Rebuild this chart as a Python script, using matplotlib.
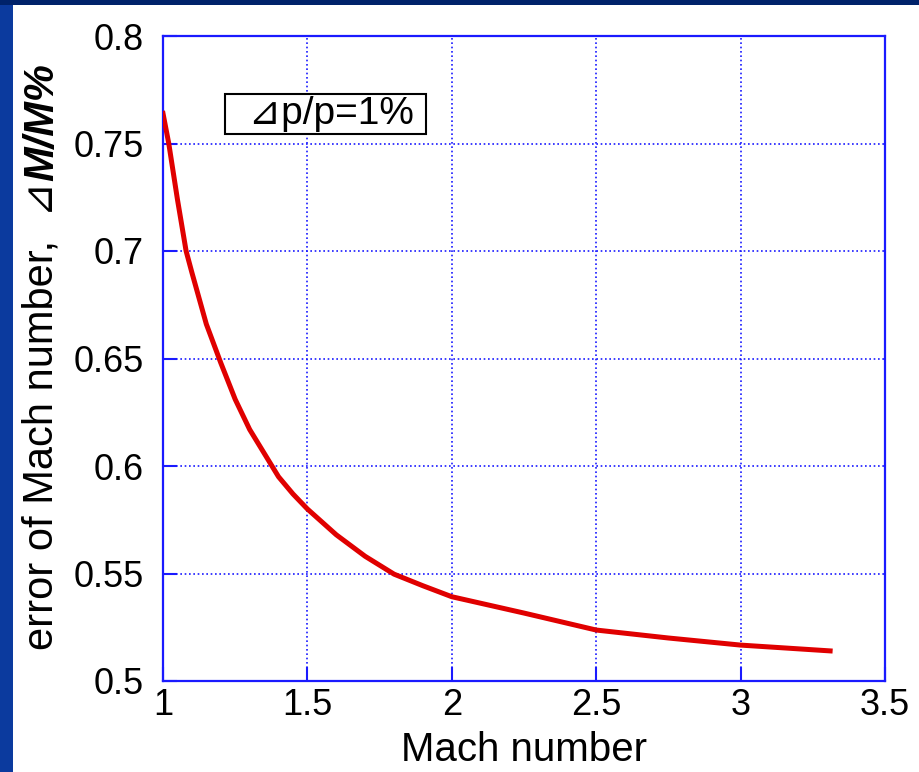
import matplotlib
matplotlib.use('Agg')
from matplotlib import pyplot as plt
from matplotlib.patches import Rectangle

# Datos
mach = [1.0, 1.02, 1.05, 1.08, 1.1, 1.15, 1.2, 1.25, 1.3, 1.35, 1.4, 1.45,
        1.5, 1.6, 1.7, 1.8, 1.9, 2.0, 2.25, 2.5, 2.75, 3.0, 3.31]
error = [0.764, 0.750, 0.724, 0.700, 0.690, 0.666, 0.648, 0.631, 0.617,
         0.606, 0.595, 0.587, 0.580, 0.568, 0.558, 0.5497, 0.5443, 0.5392,
         0.5316, 0.5237, 0.520, 0.5167, 0.514]
xticks = [1, 1.5, 2, 2.5, 3, 3.5]
xlabels = ['1', '1.5', '2', '2.5', '3', '3.5']
yticks = [0.5, 0.55, 0.6, 0.65, 0.7, 0.75, 0.8]
ylabels = ['0.5', '0.55', '0.6', '0.65', '0.7', '0.75', '0.8']

plt.rcParams['font.family'] = ['Liberation Sans', 'DejaVu Sans']

blue = '#1a1aff'
fig = plt.figure(figsize=(9.19, 7.72), dpi=100)
fig.patch.set_facecolor('#0b3a9e')
# fondo blanco de la diapositiva
fig.patches.append(Rectangle((13/919, 0), 1, 767/772, transform=fig.transFigure,
                             facecolor='white', edgecolor='none', zorder=-10))
fig.patches.append(Rectangle((0, 767/772), 1, 5/772, transform=fig.transFigure,
                             facecolor='#00226a', edgecolor='none', zorder=-10))

ax = fig.add_axes([163/919, 91/772, 722/919, 645/772])
ax.set_zorder(1)
ax.plot(mach, error, color='#e00000', lw=3.6, zorder=3)

ax.set_xlim(1, 3.5)
ax.set_ylim(0.5, 0.8)
ax.set_xticks(xticks)
ax.set_xticklabels(xlabels)
ax.set_yticks(yticks)
ax.set_yticklabels(ylabels)
ax.tick_params(axis='both', direction='in', color=blue, width=1.5,
               labelsize=26, length=10)
ax.tick_params(axis='y', pad=14)
ax.tick_params(axis='x', pad=5)
for s in ax.spines.values():
    s.set_color(blue)
    s.set_linewidth(1.6)
ax.grid(True, color=blue, linestyle=(0, (1, 1.6)), linewidth=1.2)

ax.set_xlabel('Mach number', fontsize=29)
ax.xaxis.set_label_coords(0.5, -0.078)

# etiqueta del eje y en dos partes (normal + negrita cursiva)
t1 = ax.text(-0.140, 0.0, 'error of Mach number,  ⊿', transform=ax.transAxes,
             rotation=90, rotation_mode='anchor', ha='left', va='bottom',
             fontsize=30)
t2 = ax.text(-0.140, 0.0, 'M/M%', transform=ax.transAxes,
             rotation=90, rotation_mode='anchor', ha='left', va='bottom',
             fontsize=30, fontweight='bold', fontstyle='italic')
fig.canvas.draw()
inv = ax.transAxes.inverted()
e1 = t1.get_window_extent()
e2 = t2.get_window_extent()
h1 = inv.transform((0, e1.height))[1] - inv.transform((0, 0))[1]
h2 = inv.transform((0, e2.height))[1] - inv.transform((0, 0))[1]
y0 = 0.503 - (h1 + h2) / 2
t1.set_position((-0.140, y0))
t2.set_position((-0.140, y0 + h1))

ax.text(1.5627, 0.7637, '  ⊿p/p=1% ', fontsize=28, ha='center', va='center',
        bbox=dict(boxstyle='square,pad=0.05', facecolor='white',
                  edgecolor='black', linewidth=1.5), zorder=4)

plt.savefig('out.png', dpi=100, facecolor=fig.get_facecolor())
